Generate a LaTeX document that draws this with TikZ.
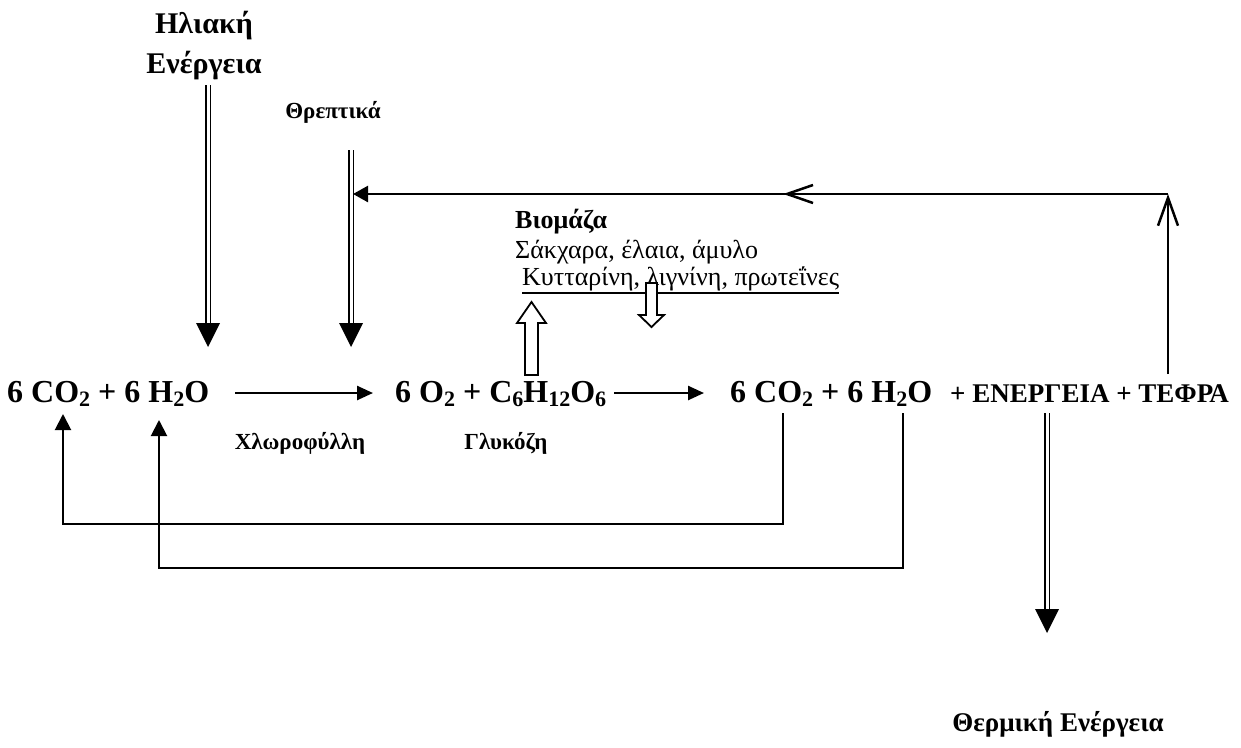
\documentclass[tikz,border=0pt]{standalone}
\usepackage{fontspec}
\setmainfont{Liberation Serif}
\usetikzlibrary{arrows.meta,calc}
\newcommand\dsub[1]{\raisebox{-4pt}{\fontsize{22}{22}\selectfont #1}}
\tikzset{
  eqtext/.style={inner sep=0pt, anchor=base west, font=\fontsize{32}{32}\selectfont\bfseries},
  captext/.style={inner sep=0pt, anchor=base west, font=\fontsize{27}{27}\selectfont\bfseries},
  lbl/.style={inner sep=0pt, font=\fontsize{23}{23}\selectfont\bfseries},
  biotext/.style={inner sep=0pt, anchor=base west, font=\fontsize{26}{26}\selectfont},
  conn/.style={line width=2pt, -{Triangle[length=16pt,width=16pt]}},
  eqarrow/.style={line width=2.5pt, -{Triangle[length=16pt,width=14pt]}},
  dblline/.style={double, double distance=3pt, line width=1.8pt},
  dblhead/.style={fill=black},
  openarr/.style={line width=2.5pt, -{Straight Barb[length=28pt,width=20pt]}},
  blockarr/.style={draw=black, fill=white, line width=1.8pt, line join=miter}
}
\begin{document}
\begin{tikzpicture}[x=1pt,y=-1pt]
\useasboundingbox[fill=white] (0,0) rectangle (1241,747);

% top labels
\node[align=center, inner sep=0pt, font=\fontsize{30}{40}\selectfont\bfseries] (sun) at (204,46) {Ηλιακή\\Ενέργεια};
\node[lbl] (nutr) at (333,112) {Θρεπτικά};

% equation line
\node[eqtext] (eqA) at (7,402) {6 CO\dsub{2} + 6 H\dsub{2}O};
\node[eqtext] (eqB) at (395,402) {6 O\dsub{2} + C\dsub{6}H\dsub{12}O\dsub{6}};
\node[eqtext] (eqC) at (730,402) {6 CO\dsub{2} + 6 H\dsub{2}O};
\node[captext] (eqD) at (950,402) {+ ΕΝΕΡΓΕΙΑ + ΤΕΦΡΑ};

% biomass
\node[biotext, font=\fontsize{26}{26}\selectfont\bfseries] (bio1) at (515,228) {Βιομάζα};
\node[biotext] (bio2) at (515,258) {Σάκχαρα, έλαια, άμυλο};
\node[biotext] (bio3) at (522,285) {Κυτταρίνη, λιγνίνη, πρωτεΐνες};
\draw[line width=1.6pt] ($(bio3.base west)+(0,8)$) -- ($(bio3.base east)+(0,8)$);

% lower labels
\node[lbl] (chl) at (300,443) {Χλωροφύλλη};
\node[lbl] (glu) at (506,443) {Γλυκόζη};
\node[inner sep=0pt, font=\fontsize{27}{27}\selectfont\bfseries] (heat) at (1058,724) {Θερμική Ενέργεια};

% coordinates
\coordinate (sunEnd) at (208,347);
\coordinate (nutrTop) at (351,150);
\coordinate (nutrEnd) at (351,347);
\coordinate (rb) at (1168,374);
\coordinate (rt) at (1168,194);
\coordinate (rm) at (787,194);
\coordinate (nj) at (353,194);
\coordinate (c1s) at (783,413);
\coordinate (c1e) at (63,414);
\coordinate (c2s) at (903,413);
\coordinate (c2e) at (159,420);
\coordinate (hTop) at (1047,413);
\coordinate (hEnd) at (1047,633);

% double arrows
\draw[dblline] (sunEnd |- 0,85) -- ($(sunEnd)+(0,-22)$);
\fill[dblhead] (sunEnd) -- ++(-12,-24) -- ++(24,0) -- cycle;
\draw[dblline] (nutrTop) -- ($(nutrEnd)+(0,-22)$);
\fill[dblhead] (nutrEnd) -- ++(-12,-24) -- ++(24,0) -- cycle;
\draw[dblline] (hTop) -- ($(hEnd)+(0,-22)$);
\fill[dblhead] (hEnd) -- ++(-12,-24) -- ++(24,0) -- cycle;

% return loop
\draw[openarr] (rb) -- (rt);
\draw[line width=2.5pt] (rt) -- (rm);
\draw[line width=2.5pt] ($(rm)+(26,-9)$) -- (rm) -- ($(rm)+(26,9)$);
\draw[line width=2.5pt, -{Triangle[length=15pt,width=16pt]}] (rm) -- (nj);

% equation arrows
\draw[eqarrow] ($(eqA.base east)+(26,-9)$) -- ($(eqB.base west)+(-22,-9)$);
\draw[eqarrow] ($(eqB.base east)+(8,-9)$) -- ($(eqC.base west)+(-26,-9)$);

% recycling connectors
\draw[conn] (c1s) -- (c1s |- 0,524) -- (c1e |- 0,524) -- (c1e);
\draw[conn] (c2s) -- (c2s |- 0,568) -- (c2e |- 0,568) -- (c2e);

% block arrows
\draw[blockarr] (525,375) -- (525,323) -- (517,323) -- (531.5,302) -- (546,323) -- (538,323) -- (538,375) -- cycle;
\draw[blockarr] (646,283) -- (646,315) -- (639,315) -- (651.5,327) -- (664,315) -- (657,315) -- (657,283) -- cycle;
\end{tikzpicture}
\end{document}
